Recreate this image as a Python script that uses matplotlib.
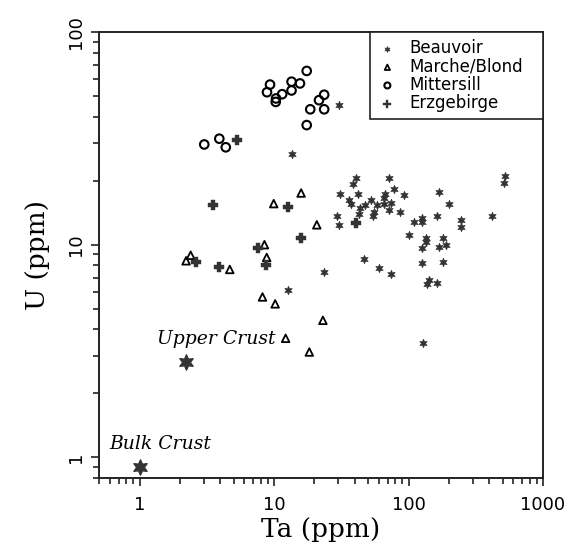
import matplotlib
matplotlib.use("Agg")
import matplotlib.pyplot as plt
from matplotlib.ticker import LogLocator, NullFormatter, FixedLocator, FixedFormatter

# Ta (ppm), U (ppm)
beauvoir_ta = [30.2, 13.7, 40.9, 38.7, 71.3, 78.6, 31.1, 42.4, 67.3, 91.8, 169, 520, 514,
               36.3, 52.9, 37.5, 43.8, 58.4, 65.4, 74.3, 71.3, 85.7, 55.1, 54.5, 29.5, 30.5,
               201, 162, 110, 125, 127, 247, 244, 416, 101, 136, 134, 179, 127, 189, 169,
               125, 180, 46.4, 60.8, 74.7, 143, 138, 162, 23.6, 12.8, 129, 42.6, 47.8, 66.2]
beauvoir_u = [45.3, 26.6, 20.5, 19.2, 20.5, 18.3, 17.3, 17.3, 17.3, 17.2, 17.6, 21.0, 19.5,
              16.2, 16.2, 15.5, 14.9, 15.3, 15.6, 15.7, 14.5, 14.2, 14.2, 13.6, 13.7, 12.4,
              15.6, 13.6, 12.8, 13.3, 12.8, 13.0, 12.1, 13.7, 11.1, 10.8, 10.3, 10.8, 9.6, 9.97, 9.71,
              8.16, 8.29, 8.56, 7.73, 7.32, 6.84, 6.53, 6.64, 7.48, 6.11, 3.44, 13.9, 15.3, 16.5]

marche_ta = [2.22, 2.40, 4.69, 9.95, 15.9, 20.8, 8.49, 8.82, 8.21, 10.2, 23.1, 12.2, 18.3]
marche_u = [8.4, 8.92, 7.65, 15.6, 17.5, 12.4, 10.0, 8.71, 5.68, 5.27, 4.41, 3.63, 3.13]

mittersill_ta = [17.5, 9.34, 8.87, 13.5, 15.6, 13.5, 11.5, 10.35, 10.3, 23.6, 21.6, 18.6,
                 23.6, 17.5, 3.03, 3.92, 4.38]
mittersill_u = [65.6, 56.6, 52.1, 58.4, 57.3, 53.1, 51.0, 48.7, 46.9, 50.7, 47.8, 43.3,
                43.3, 36.5, 29.6, 31.5, 28.7]

erz_ta = [5.3, 3.5, 12.7, 15.9, 7.66, 8.67, 2.62, 3.89, 40.6]
erz_u = [30.9, 15.4, 15.0, 10.7, 9.6, 8.05, 8.26, 7.87, 12.7]

crust_names = ["Upper Crust", "Bulk Crust"]
crust_ta = [2.2, 1.0]
crust_u = [2.8, 0.9]

dark = "#333333"
star6 = (6, 1, 0)

fig = plt.figure(figsize=(5.71, 5.45), dpi=100)
ax = fig.add_axes([0.1734, 0.1229, 0.7776, 0.8184])

ax.scatter(beauvoir_ta, beauvoir_u, marker=star6, s=38, color=dark, linewidths=0.4,
           label="Beauvoir", zorder=3)
ax.scatter(marche_ta, marche_u, marker="^", s=30, facecolors="none", edgecolors="black",
           linewidths=1.3, label="Marche/Blond", zorder=3)
ax.scatter(mittersill_ta, mittersill_u, marker="o", s=38, facecolors="none", edgecolors="black",
           linewidths=1.5, label="Mittersill", zorder=3)
ax.scatter(erz_ta, erz_u, marker="P", s=60, color=dark, linewidths=0.3,
           label="Erzgebirge", zorder=3)
ax.scatter(crust_ta, crust_u, marker=star6, s=120, color=dark, zorder=3)

ax.text(1.36, 3.6, crust_names[0], fontsize=13.5, family="DejaVu Serif", style="italic",
        ha="left", va="center")
ax.text(0.597, 1.15, crust_names[1], fontsize=13.5, family="DejaVu Serif", style="italic",
        ha="left", va="center")

ax.set_xscale("log")
ax.set_yscale("log")
ax.set_xlim(0.5, 1000)
ax.set_ylim(0.8, 100)

ax.xaxis.set_major_locator(FixedLocator([1, 10, 100, 1000]))
ax.xaxis.set_major_formatter(FixedFormatter(["1", "10", "100", "1000"]))
ax.yaxis.set_major_locator(FixedLocator([1, 10, 100]))
ax.yaxis.set_major_formatter(FixedFormatter(["1", "10", "100"]))
ax.xaxis.set_minor_locator(LogLocator(base=10, subs=range(2, 10)))
ax.yaxis.set_minor_locator(LogLocator(base=10, subs=range(2, 10)))
ax.xaxis.set_minor_formatter(NullFormatter())
ax.yaxis.set_minor_formatter(NullFormatter())

ax.tick_params(which="both", direction="out", top=False, right=False, width=1.2, color="#222222")
ax.tick_params(which="major", length=6)
ax.tick_params(which="minor", length=4.5)
ax.tick_params(axis="x", which="major", labelsize=13, pad=7)
ax.tick_params(axis="y", which="major", labelsize=13, pad=4, labelrotation=90)
for lbl in ax.get_yticklabels():
    lbl.set_va("center")

for sp in ax.spines.values():
    sp.set_linewidth(1.4)
    sp.set_color("#222222")

ax.set_xlabel("Ta (ppm)", fontsize=19, family="DejaVu Serif", labelpad=2)
ax.set_ylabel("U (ppm)", fontsize=19, family="DejaVu Serif", labelpad=12)

# legend box spans the top right corner of the axes
leg = ax.legend(loc="upper left", bbox_to_anchor=(0.61, 0.0, 0.39, 1.0), mode="expand",
                borderaxespad=0, fancybox=False, edgecolor="#222222", fontsize=12,
                handlelength=1.2, handletextpad=0.7, labelspacing=0.01, borderpad=0.45,
                markerscale=0.7)
leg.get_frame().set_linewidth(1.2)
leg.get_frame().set_alpha(1)

plt.savefig("out.png", dpi=100)
